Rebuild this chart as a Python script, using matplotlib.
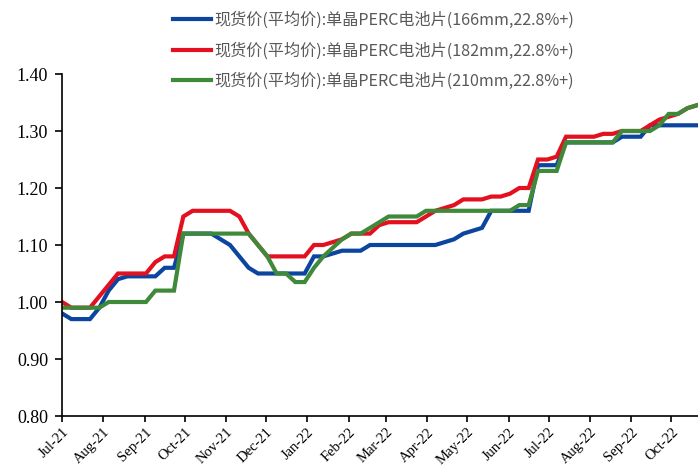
import matplotlib
matplotlib.use("Agg")
import matplotlib.pyplot as plt
import matplotlib.dates as mdates
import pandas as pd

# weekly observation dates
dates = pd.date_range("2021-07-01", periods=69, freq="7D")

price_166 = [0.98, 0.97, 0.97, 0.97, 0.99, 1.02, 1.04, 1.045, 1.045, 1.045,
             1.045, 1.06, 1.06, 1.12, 1.12, 1.12, 1.12, 1.11, 1.10, 1.08,
             1.06, 1.05, 1.05, 1.05, 1.05, 1.05, 1.05, 1.08, 1.08, 1.085,
             1.09, 1.09, 1.09, 1.10, 1.10, 1.10, 1.10, 1.10, 1.10, 1.10,
             1.10, 1.105, 1.11, 1.12, 1.125, 1.13, 1.16, 1.16, 1.16, 1.16,
             1.16, 1.24, 1.24, 1.24, 1.28, 1.28, 1.28, 1.28, 1.28, 1.28,
             1.29, 1.29, 1.29, 1.31, 1.31, 1.31, 1.31, 1.31, 1.31]

price_182 = [1.00, 0.99, 0.99, 0.99, 1.01, 1.03, 1.05, 1.05, 1.05, 1.05,
             1.07, 1.08, 1.08, 1.15, 1.16, 1.16, 1.16, 1.16, 1.16, 1.15,
             1.12, 1.10, 1.08, 1.08, 1.08, 1.08, 1.08, 1.10, 1.10, 1.105,
             1.11, 1.12, 1.12, 1.12, 1.135, 1.14, 1.14, 1.14, 1.14, 1.15,
             1.16, 1.165, 1.17, 1.18, 1.18, 1.18, 1.185, 1.185, 1.19, 1.20,
             1.20, 1.25, 1.25, 1.255, 1.29, 1.29, 1.29, 1.29, 1.295, 1.295,
             1.30, 1.30, 1.30, 1.31, 1.32, 1.325, 1.33, 1.34, 1.345]

price_210 = [0.99, 0.99, 0.99, 0.99, 0.99, 1.00, 1.00, 1.00, 1.00, 1.00,
             1.02, 1.02, 1.02, 1.12, 1.12, 1.12, 1.12, 1.12, 1.12, 1.12,
             1.12, 1.10, 1.08, 1.05, 1.05, 1.035, 1.035, 1.06, 1.08, 1.095,
             1.11, 1.12, 1.12, 1.13, 1.14, 1.15, 1.15, 1.15, 1.15, 1.16,
             1.16, 1.16, 1.16, 1.16, 1.16, 1.16, 1.16, 1.16, 1.16, 1.17,
             1.17, 1.23, 1.23, 1.23, 1.28, 1.28, 1.28, 1.28, 1.28, 1.28,
             1.30, 1.30, 1.30, 1.30, 1.31, 1.33, 1.33, 1.34, 1.345]

labels = ["现货价(平均价):单晶PERC电池片(166mm,22.8%+)",
          "现货价(平均价):单晶PERC电池片(182mm,22.8%+)",
          "现货价(平均价):单晶PERC电池片(210mm,22.8%+)"]
colors = ["#0B45A0", "#E31020", "#3F8A3A"]

y_ticks = [0.80, 0.90, 1.00, 1.10, 1.20, 1.30, 1.40]

fig = plt.figure(figsize=(6.98, 4.68), dpi=100)
ax = fig.add_axes([62/698, 52/468, 1 - 62/698, (416-74)/468])

for vals, lab, c in zip([price_166, price_182, price_210], labels, colors):
    ax.plot(dates, vals, color=c, lw=3.0, label=lab, solid_joinstyle="miter")

ax.set_ylim(0.80, 1.40)
ax.set_yticks(y_ticks)
ax.set_yticklabels([f"{v:.2f}" for v in y_ticks], family="Liberation Serif", fontsize=13)
ax.set_xlim(pd.Timestamp("2021-07-01"), pd.Timestamp("2022-10-21"))
ax.xaxis.set_major_locator(mdates.MonthLocator())
ax.xaxis.set_major_formatter(mdates.DateFormatter("%b-%y"))
for t in ax.get_xticklabels():
    t.set_rotation(45)
    t.set_ha("right")
    t.set_rotation_mode("anchor")
    t.set_family("Liberation Serif")
    t.set_fontsize(10.5)

ax.spines["top"].set_visible(False)
ax.spines["right"].set_visible(False)
ax.spines["left"].set_linewidth(1.2)
ax.spines["bottom"].set_linewidth(1.2)
ax.tick_params(axis="y", direction="out", length=5, width=1.2, pad=5)
ax.tick_params(axis="x", direction="out", length=4, width=1.2, pad=3)

leg = fig.legend(loc="upper left", bbox_to_anchor=(162/698, 1.0), frameon=False,
                 prop={"family": ["Noto Sans CJK SC", "DejaVu Sans"], "size": 11.6},
                 handlelength=2.35, handletextpad=0.2, labelspacing=0.83,
                 borderaxespad=0.3)
for t in leg.get_texts():
    t.set_color("#595959")

fig.savefig("out.png", dpi=100)
